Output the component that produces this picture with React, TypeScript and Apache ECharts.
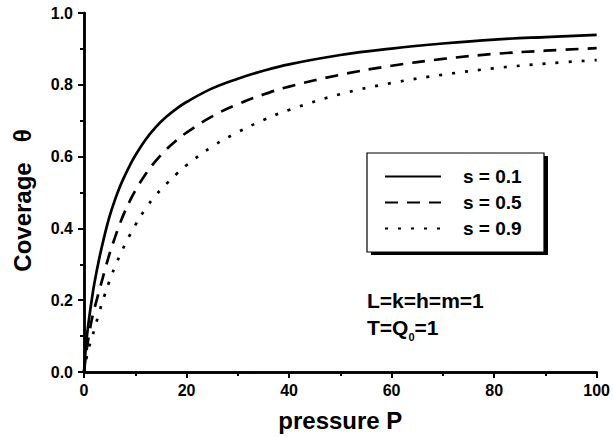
import React, { useEffect, useRef } from "react";
import * as echarts from "echarts";

const pressure = [0, 0.5, 1, 1.5, 2, 3, 4, 5, 6, 7, 8, 9, 10, 12, 14, 16, 18, 20, 25, 30, 35, 40, 50, 60, 70, 80, 90, 100];
const s01 = [0, 0.09, 0.15, 0.2, 0.245, 0.318, 0.38, 0.434, 0.478, 0.516, 0.548, 0.577, 0.603, 0.647, 0.682, 0.71, 0.733, 0.752, 0.79, 0.817, 0.839, 0.857, 0.883, 0.901, 0.915, 0.926, 0.933, 0.939];
const s05 = [0, 0.06, 0.105, 0.145, 0.175, 0.228, 0.28, 0.33, 0.373, 0.413, 0.448, 0.478, 0.505, 0.551, 0.588, 0.619, 0.645, 0.667, 0.712, 0.746, 0.773, 0.795, 0.828, 0.853, 0.872, 0.886, 0.895, 0.902];
const s09 = [0, 0.04, 0.07, 0.095, 0.117, 0.168, 0.213, 0.255, 0.292, 0.325, 0.355, 0.383, 0.409, 0.455, 0.492, 0.523, 0.551, 0.576, 0.628, 0.668, 0.702, 0.73, 0.774, 0.805, 0.828, 0.846, 0.859, 0.869];
const seriesNames = ["s = 0.1", "s = 0.5", "s = 0.9"];
const xTitle = "pressure P";
const yTitle = "Coverage   θ";
const note1 = "L=k=h=m=1";
const note2 = "{n|T=Q}{sub|0}{n|=1}";

const FONT = "'Liberation Sans', Arial, Helvetica, sans-serif";

export default function App() {
  const ref = useRef<HTMLDivElement>(null);
  useEffect(() => {
    document.body.style.margin = "0";
    const chart = echarts.init(ref.current!, null, { renderer: "svg" });
    const toPairs = (ys: number[]) => pressure.map((p, i) => [p, ys[i]]);
    const axisLine = { show: true, lineStyle: { color: "#000", width: 2.5 } };
    const tickStyle = { color: "#000", width: 1.8 };
    const minorTick = { show: true, splitNumber: 2, length: 4, lineStyle: tickStyle };
    const baseX = {
      type: "value" as const,
      min: 0,
      max: 100,
      interval: 20,
      splitLine: { show: false },
      minorSplitLine: { show: false },
      axisLine,
      minorTick,
    };
    const baseY = {
      type: "value" as const,
      min: 0,
      max: 1,
      interval: 0.2,
      splitLine: { show: false },
      minorSplitLine: { show: false },
      axisLine,
      minorTick,
    };
    chart.setOption({
      animation: false,
      backgroundColor: "#fff",
      grid: { left: 84, right: 16, top: 13, bottom: 64, containLabel: false },
      xAxis: [
        {
          ...baseX,
          position: "bottom",
          axisTick: { show: true, inside: false, length: 6, lineStyle: tickStyle },
          axisLabel: { show: true, color: "#000", fontFamily: FONT, fontWeight: "bold", fontSize: 16, margin: 10 },
          name: xTitle,
          nameLocation: "middle",
          nameGap: 36,
          nameTextStyle: { color: "#000", fontFamily: FONT, fontWeight: "bold", fontSize: 24 },
        },
        {
          ...baseX,
          position: "top",
          axisTick: { show: true, inside: true, length: 6, lineStyle: tickStyle },
          axisLabel: { show: false },
        },
      ],
      yAxis: [
        {
          ...baseY,
          position: "left",
          axisTick: { show: true, inside: false, length: 6, lineStyle: tickStyle },
          axisLabel: {
            show: true,
            color: "#000",
            fontFamily: FONT,
            fontWeight: "bold",
            fontSize: 16,
            margin: 11,
            formatter: (v: number) => v.toFixed(1),
          },
          name: yTitle,
          nameLocation: "middle",
          nameGap: 50,
          nameTextStyle: { color: "#000", fontFamily: FONT, fontWeight: "bold", fontSize: 24, padding: [0, 16, 0, 0] },
        },
        {
          ...baseY,
          position: "right",
          axisTick: { show: true, inside: true, length: 6, lineStyle: tickStyle },
          axisLabel: { show: false },
        },
      ],
      legend: {
        orient: "vertical",
        left: 384,
        top: 167,
        itemWidth: 56,
        itemHeight: 14,
        itemGap: 7,
        padding: 0,
        selectedMode: false,
        data: seriesNames,
        itemStyle: { opacity: 0 },
        textStyle: {
          color: "#000",
          fontFamily: FONT,
          fontWeight: "bold",
          fontSize: 19,
          lineHeight: 14,
          padding: [0, 0, 0, 17],
        },
      },
      graphic: [
        { type: "rect", shape: { x: 371, y: 156, width: 177, height: 99 }, style: { fill: "#000" }, z: 1 },
        { type: "rect", shape: { x: 367, y: 153, width: 177, height: 99 }, style: { fill: "#fff", stroke: "#000", lineWidth: 1.2 }, z: 2 },
        {
          type: "text",
          x: 367,
          y: 300,
          z: 10,
          style: { text: note1, fill: "#000", font: `bold 21px ${FONT}`, verticalAlign: "middle" },
        },
        {
          type: "text",
          x: 367,
          y: 327,
          z: 10,
          style: {
            text: note2,
            fill: "#000",
            font: `bold 21px ${FONT}`,
            verticalAlign: "middle",
            rich: {
              n: { fontSize: 21, fontWeight: "bold", fontFamily: FONT, lineHeight: 30, verticalAlign: "middle" },
              sub: { fontSize: 11, fontWeight: "bold", fontFamily: FONT, lineHeight: 11, verticalAlign: "bottom" },
            },
          },
        },
      ],
      series: [
        {
          name: seriesNames[0],
          type: "line",
          data: toPairs(s01),
          smooth: 0.4,
          symbol: "none",
          lineStyle: { color: "#000", width: 2.7, type: "solid" },
          itemStyle: { color: "#000" },
          z: 5,
        },
        {
          name: seriesNames[1],
          type: "line",
          data: toPairs(s05),
          smooth: 0.4,
          symbol: "none",
          lineStyle: { color: "#000", width: 2.7, type: [13, 9] },
          itemStyle: { color: "#000" },
          z: 5,
        },
        {
          name: seriesNames[2],
          type: "line",
          data: toPairs(s09),
          smooth: 0.4,
          symbol: "none",
          lineStyle: { color: "#000", width: 2.7, type: [3, 10] },
          itemStyle: { color: "#000" },
          z: 5,
        },
      ],
    });
    return () => chart.dispose();
  }, []);
  return <div ref={ref} style={{ width: 613, height: 437 }} />;
}
